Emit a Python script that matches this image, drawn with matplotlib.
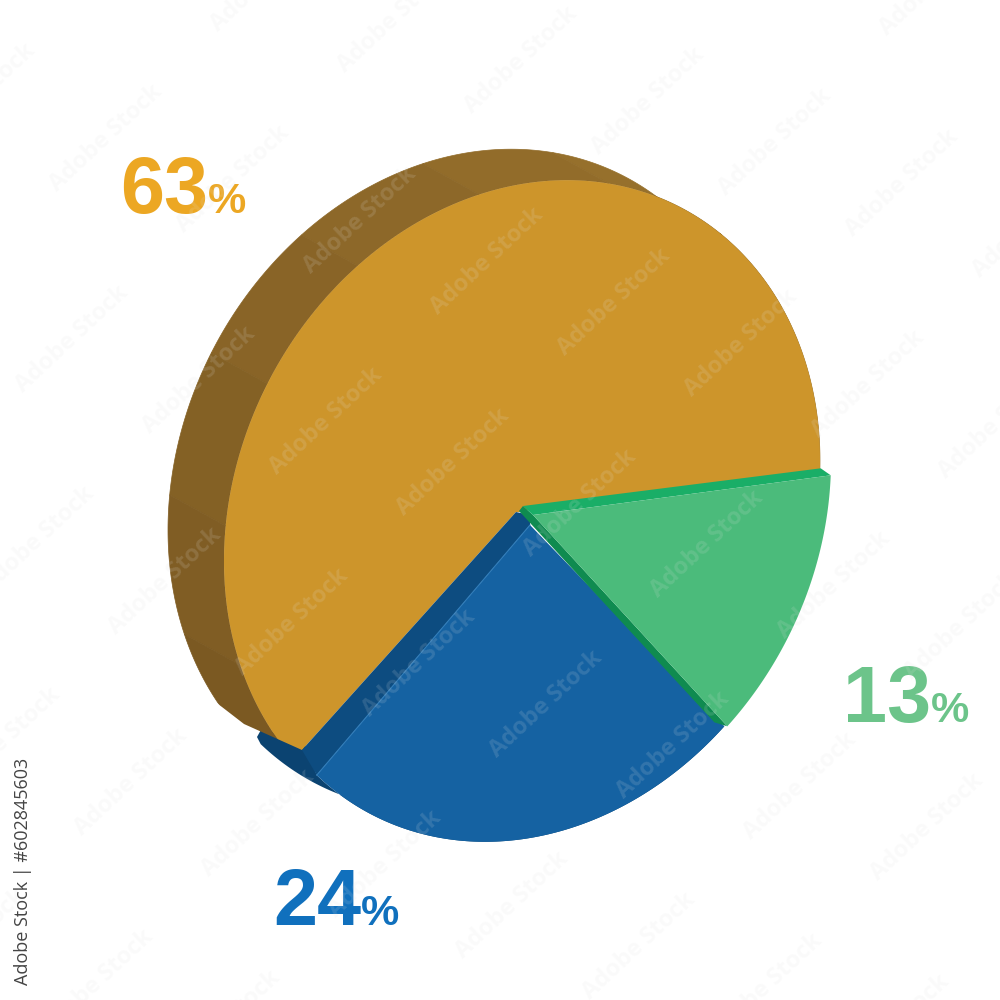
import numpy as np
import matplotlib
matplotlib.use("Agg")
import matplotlib.pyplot as plt
from matplotlib.patches import Polygon

labels = ["63", "24", "13"]
values = [63, 24, 13]
face_colors = ["#cd952b", "#1562a2", "#4bbb7b"]
text_colors = ["#eca723", "#1070bd", "#6cc48a"]

# ellipse of the tilted disc, pixels (y axis points down on the figure)
cx, cy = 522, 511
A = np.array([[298, 0], [-50, -327]])
start = -2.5
depth = np.array([-56, -31])

def arc(t0, t1, n=120, center=(cx, cy)):
    t = np.radians(np.linspace(t0, t1, n))
    u = np.vstack([np.cos(t), np.sin(t)])
    return (A @ u).T + np.array(center)

angles = start + np.cumsum([0] + values) * 3.6

fig = plt.figure(figsize=(10, 10), dpi=100, facecolor="white")
ax = fig.add_axes([0, 0, 1, 1])
ax.set_xlim(0, 1000)
ax.set_ylim(1000, 0)
ax.axis("off")

# blue side first, gold goes over it
blue_arc = arc(angles[1], angles[2], center=(cx + 8, cy))
side = np.vstack([blue_arc, (blue_arc + depth)[::-1], [[257, 737], [262, 728], [305, 745]]])
ax.fill(side[:, 0], side[:, 1], color="#0b4371", lw=0)

# gold is cut off along the front of the blue side
cut = Polygon([[516, 512], [302, 750], [244, 724], [200, 690], [0, 690], [0, 0], [1000, 0], [1000, 512]],
              transform=ax.transData)

# gold side in bands, darker to the bottom
gold_arc = arc(angles[0], angles[1], n=361)
nb = 9
c0 = np.array(matplotlib.colors.to_rgb("#9f772f"))
c1 = np.array(matplotlib.colors.to_rgb("#7b5922"))
idx = np.linspace(0, len(gold_arc) - 1, nb + 1).astype(int)
for i in range(nb):
    p = gold_arc[idx[i]:idx[i + 1] + 1]
    q = np.vstack([p, (p + depth)[::-1]])
    for s in ax.fill(q[:, 0], q[:, 1], color=c0 + (c1 - c0) * i / (nb - 1), lw=0.5):
        s.set_clip_path(cut)

gold = np.vstack([[cx, cy], gold_arc])
for s in ax.fill(gold[:, 0], gold[:, 1], color=face_colors[0], lw=0):
    s.set_clip_path(cut)

# blue wedge, pulled out from the middle
blue_tip = np.array([530, 525])
strip = np.array([[516, 512], [302, 750], blue_arc[0], blue_tip, [530, 515]])
ax.fill(strip[:, 0], strip[:, 1], color="#0d4c80", lw=0)
blue = np.vstack([blue_tip, blue_arc])
ax.fill(blue[:, 0], blue[:, 1], color=face_colors[1], lw=0)
ax.plot([blue_tip[0], blue_arc[0, 0]], [blue_tip[1], blue_arc[0, 1]], color="#2f7bb8", lw=0.8)

# green wedge
green_tip = np.array([533, 515])
green_arc = arc(angles[2], angles[3], center=(cx + 11, cy))
gd = np.array([-10, -7])
top = np.array([[523, 506], green_arc[-1] + gd, green_arc[-1], green_tip])
low = np.array([[519, 511], [523, 506], green_tip, green_arc[0], green_arc[0] + [-13, -4]])
ax.fill(low[:, 0], low[:, 1], color="#0f8b50", lw=0)
ax.fill(top[:, 0], top[:, 1], color="#1aae67", lw=0)
green = np.vstack([green_tip, green_arc])
ax.fill(green[:, 0], green[:, 1], color=face_colors[2], lw=0)

# labels
label_pos = [(120, 213), (273, 925), (843, 722)]
for lab, col, (x, y) in zip(labels, text_colors, label_pos):
    ax.text(x, y, lab, color=col, fontsize=57, fontweight="bold",
            family="Liberation Sans", ha="left", va="baseline")
    ax.text(x + 88, y, "%", color=col, fontsize=31, fontweight="bold",
            family="Liberation Sans", ha="left", va="baseline")

# stock watermark
a = np.array([127, 41])
c = np.array([161, -160])
for i in range(-8, 10):
    for j in range(-8, 8):
        x, y = np.array([775, 142]) + i * a + j * c
        if -40 < x < 1040 and -30 < y < 1030:
            ax.text(x, y, "Adobe Stock", color="#e2e2e2", alpha=0.15, fontsize=17,
                    fontweight="bold", family="Open Sans", rotation=43,
                    rotation_mode="anchor", ha="center", va="center", clip_on=True)

ax.text(23, 871, "Adobe Stock | #602845603", color="#444444", fontsize=13,
        family="Open Sans", rotation=90, ha="center", va="center")

fig.savefig("out.png", dpi=100)
